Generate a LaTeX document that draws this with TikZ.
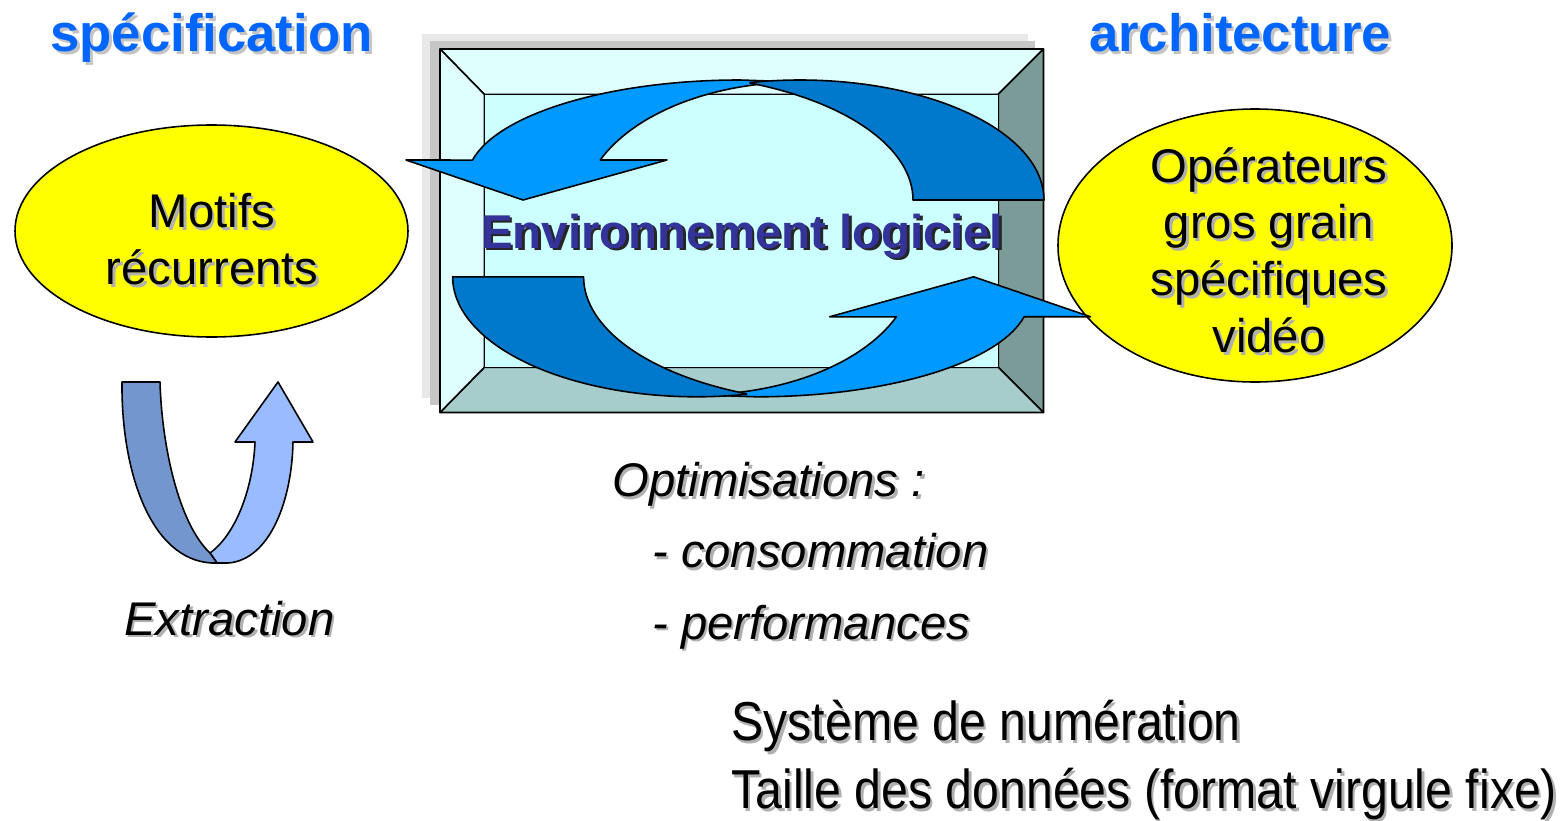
\documentclass[tikz,border=0pt]{standalone}
\usepackage{fontspec}
\setmainfont{Liberation Sans}
\newfontfamily\narrowfont[FakeStretch=0.88]{Liberation Sans}
\definecolor{titleblue}{HTML}{0066FF}
\definecolor{envblue}{HTML}{333399}
\definecolor{arrlight}{HTML}{0099FF}
\definecolor{arrdark}{HTML}{0078CC}
\definecolor{facetlight}{HTML}{DFFFFF}
\definecolor{facetinner}{HTML}{CCFFFF}
\definecolor{facetright}{HTML}{7B9B98}
\definecolor{facetbottom}{HTML}{A6CCCC}
\definecolor{ellyellow}{HTML}{FFFF00}
\definecolor{extdark}{HTML}{7396CF}
\definecolor{extlight}{HTML}{99BBFF}
\definecolor{shgray}{HTML}{B0B0B0}
\definecolor{shlight}{HTML}{C4C4C4}
\newcommand\shtext[2]{\leavevmode\rlap{\kern1.5pt\raisebox{-1.5pt}{\textcolor{#1}{#2}}}#2}
\begin{document}
\begin{tikzpicture}[x=0.02cm,y=0.02cm,line join=round,
  outl/.style={draw=black,line width=0.9pt},
  txt/.style={inner sep=0pt,outer sep=0pt,font=\fontsize{26.9pt}{32.3pt}\selectfont},
  ttl/.style={inner sep=0pt,outer sep=0pt,anchor=base,text=titleblue,font=\bfseries\fontsize{30pt}{36pt}\selectfont}]
\useasboundingbox (0,0) rectangle (1565,-821);
\fill[white] (0,0) rectangle (1565,-821);
% shadow of the box
\fill[gray!18] (422,-34) rectangle (1028,-398);
\fill[gray!45] (430,-41) rectangle (1035,-405);
% bevelled box
\coordinate (o1) at (440,-49);
\coordinate (o2) at (1043.5,-49);
\coordinate (o3) at (1043.5,-412.5);
\coordinate (o4) at (440,-412.5);
\coordinate (i1) at (484.3,-94.3);
\coordinate (i2) at (998.3,-94.3);
\coordinate (i3) at (998.3,-367.3);
\coordinate (i4) at (484.3,-367.3);
\filldraw[outl,fill=facetlight] (o1)--(o2)--(i2)--(i1)--cycle;
\filldraw[outl,fill=facetright] (o2)--(o3)--(i3)--(i2)--cycle;
\filldraw[outl,fill=facetbottom] (o3)--(o4)--(i4)--(i3)--cycle;
\filldraw[outl,fill=facetlight] (o4)--(o1)--(i1)--(i4)--cycle;
\filldraw[outl,fill=facetinner] (i1) rectangle (i3);
% ellipses
\filldraw[outl,fill=ellyellow] (211.5,-231) ellipse [x radius=196.5,y radius=106];
\filldraw[outl,fill=ellyellow] (1255,-245.5) ellipse [x radius=197,y radius=136.5];
% circular arrows
\foreach \r in {0,180}{
\begin{scope}[rotate around={\r:(748.3,-238.4)}]
\filldraw[outl,fill=arrlight] (406,-160) -- (472.5,-160.06)
  arc[start angle=168.5,end angle=90,x radius=273,y radius=100] -- (800,-82)
  arc[start angle=90,end angle=156.42,x radius=218,y radius=130] -- (667,-160) -- (523,-200) -- cycle;
\filldraw[outl,fill=arrdark] (750.1,-82.54)
  arc[start angle=101.8,end angle=0,x radius=244,y radius=120] -- (913,-200)
  arc[start angle=0,end angle=67.6,x radius=263,y radius=126.5] -- cycle;
\end{scope}}
% extraction arrow
\filldraw[outl,fill=extlight] (210,-553) .. controls (235,-535) and (253,-490) .. (255,-442) -- (235,-442) -- (278,-382) -- (313,-442) -- (293,-442) .. controls (292,-500) and (270,-560) .. (228,-563) -- (217,-563) -- cycle;
\filldraw[outl,fill=extdark] (122,-382) -- (160,-382) .. controls (162,-450) and (180,-525) .. (210,-553) -- (217,-563) -- (212,-563) .. controls (150,-560) and (121,-470) .. (122,-382) -- cycle;
% texts
\node[ttl] (spec) at (211.5,-52) {\shtext{shlight}{spécification}};
\node[ttl] (arch) at (1240,-52) {\shtext{shlight}{architecture}};
\node[inner sep=0pt,anchor=base,text=envblue,font=\bfseries\fontsize{27pt}{32pt}\selectfont] (env) at (742,-248) {\shtext{black!85}{Environnement logiciel}};
\node[txt,align=center,anchor=north] (motifs) at (212,-193.4) {\shtext{shgray}{Motifs}\\\shtext{shgray}{récurrents}};
\node[txt,align=center,anchor=north] (oper) at (1269,-147.4) {\shtext{shgray}{Opérateurs}\\\shtext{shgray}{gros grain}\\\shtext{shgray}{spécifiques}\\\shtext{shgray}{vidéo}};
\node[inner sep=0pt,anchor=base west,font=\itshape\fontsize{26.9pt}{32pt}\selectfont] (extr) at (124,-635) {\shtext{shgray}{Extraction}};
\node[inner sep=0pt,align=left,anchor=north west,font=\itshape\fontsize{26.9pt}{40.6pt}\selectfont] (optim) at (612,-462) {\shtext{shgray}{Optimisations :}\\\hspace*{22.7pt}\shtext{shgray}{- consommation}\\\hspace*{22.7pt}\shtext{shgray}{- performances}};
\node[inner sep=0pt,align=left,anchor=north west,font=\narrowfont\fontsize{31.2pt}{38.5pt}\selectfont] (sys) at (731,-700) {\shtext{shgray}{Système de numération}\\\shtext{shgray}{Taille des données (format virgule fixe)}};
\end{tikzpicture}
\end{document}
